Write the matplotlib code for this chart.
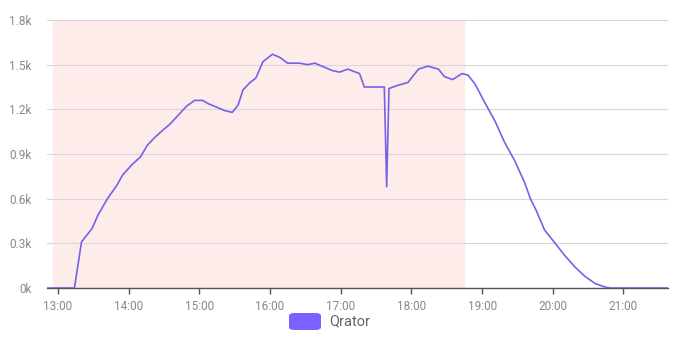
import matplotlib.pyplot as plt
from matplotlib.patches import FancyBboxPatch
import numpy as np

plt.rcParams['font.family'] = ['Roboto', 'DejaVu Sans']

# time of day (hh:mm) and request rate
times = ['12:51', '13:14', '13:20', '13:29', '13:34', '13:42', '13:50', '13:55',
         '14:03', '14:10', '14:16', '14:22', '14:29', '14:35', '14:42', '14:49',
         '14:56', '15:03', '15:07', '15:13', '15:22', '15:28', '15:33', '15:37',
         '15:43', '15:48', '15:54', '16:02', '16:08', '16:15', '16:25', '16:32',
         '16:38', '16:47', '16:53', '16:59', '17:06', '17:16', '17:20', '17:37',
         '17:39', '17:41', '17:48', '17:57', '18:06', '18:14', '18:23', '18:28',
         '18:35', '18:43', '18:48', '18:54', '19:02', '19:11', '19:19', '19:28',
         '19:36', '19:41', '19:46', '19:53', '20:02', '20:10', '20:19', '20:27',
         '20:36', '20:44', '20:49', '21:38']
values = [0, 0, 310, 400, 490, 600, 690, 760,
          830, 880, 960, 1010, 1060, 1100, 1160, 1220,
          1260, 1260, 1240, 1220, 1190, 1180, 1230, 1330,
          1380, 1410, 1520, 1570, 1550, 1510, 1510, 1500,
          1510, 1480, 1460, 1450, 1470, 1440, 1350, 1350,
          680, 1340, 1360, 1380, 1470, 1490, 1470, 1420,
          1400, 1440, 1430, 1370, 1250, 1120, 980, 850,
          710, 600, 520, 390, 300, 220, 140, 80,
          30, 7, 0, 0]

tick_hours = [13, 14, 15, 16, 17, 18, 19, 20, 21]
tick_labels = ['13:00', '14:00', '15:00', '16:00', '17:00', '18:00', '19:00', '20:00', '21:00']
y_ticks = [0, 300, 600, 900, 1200, 1500, 1800]
y_labels = ['0k', '0.3k', '0.6k', '0.9k', '1.2k', '1.5k', '1.8k']
shade_start, shade_end = '12:56', '18:45'


def to_hours(s):
    h, m = s.split(':')
    return int(h) + int(m) / 60


x = np.array([to_hours(t) for t in times])

fig = plt.figure(figsize=(6.91, 3.42), dpi=100)
ax = fig.add_axes([47 / 691, 54 / 342, 621 / 691, 268 / 342])

ax.axvspan(to_hours(shade_start), to_hours(shade_end), color='#fdecea', zorder=0)
ax.plot(x, values, color='#7662e6', lw=1.2, zorder=3)

ax.set_xlim(12.845, 21.63)
ax.set_ylim(0, 1800)
ax.set_yticks(y_ticks)
ax.set_yticklabels(y_labels)
ax.set_xticks(tick_hours)
ax.set_xticklabels(tick_labels)

ax.grid(axis='y', color='#d9d6dc', lw=0.8, zorder=1)
for s in ['top', 'right', 'left']:
    ax.spines[s].set_visible(False)
ax.spines['bottom'].set_color('#555555')
ax.spines['bottom'].set_linewidth(1.0)
ax.tick_params(axis='y', length=0, pad=11, labelsize=8.5, labelcolor='#888888')
ax.tick_params(axis='x', length=4, width=1, color='#555555', pad=5,
               labelsize=8.5, labelcolor='#888888')

# legend
fig.patches.append(FancyBboxPatch((289 / 691, 12 / 342), 32 / 691, 17 / 342,
                                  boxstyle='round,pad=0,rounding_size=0.008',
                                  transform=fig.transFigure, color='#7b61ff',
                                  ec='none'))
fig.text(329 / 691, 20.5 / 342, 'Qrator', fontsize=10.5, color='#666666',
         va='center', ha='left')

plt.savefig('out.png', dpi=100)
